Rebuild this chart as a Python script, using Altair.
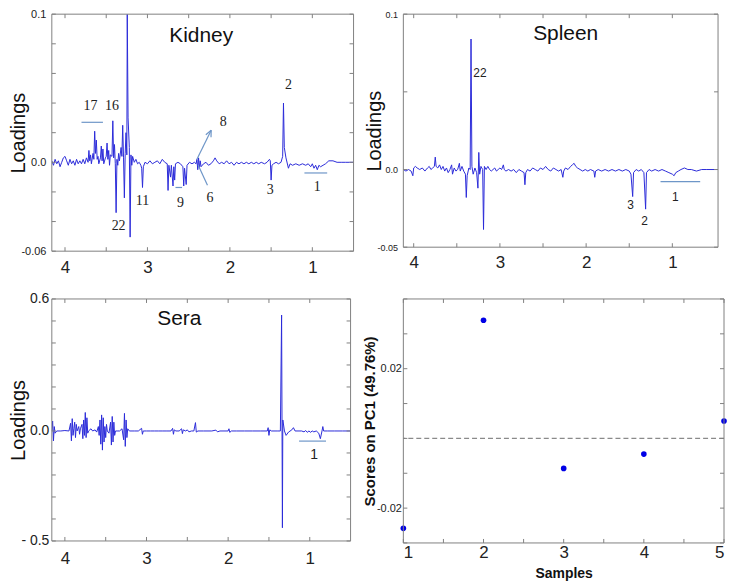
import altair as alt
import pandas as pd

# ---------------- data ----------------
# Kidney PC1 loadings: (chemical shift ppm, loading)
kidney_points = [
    (4.16, 0.001), (4.14, -0.002), (4.12, 0.002), (4.10, -0.001), (4.08, 0.001), (4.06, -0.003),
    (4.04, 0.000), (4.02, 0.003), (4.00, 0.004), (3.98, 0.001), (3.96, -0.002), (3.94, 0.002),
    (3.92, -0.001), (3.90, 0.001), (3.88, -0.002), (3.86, 0.002), (3.84, -0.001), (3.82, 0.001),
    (3.80, -0.001), (3.78, 0.002), (3.76, -0.001), (3.74, 0.003), (3.72, 0.000), (3.71, 0.008),
    (3.70, 0.001), (3.69, 0.005), (3.68, -0.001), (3.66, 0.006), (3.65, 0.002), (3.64, 0.021),
    (3.63, 0.006), (3.62, 0.015), (3.61, 0.002), (3.60, 0.004), (3.59, -0.001), (3.57, 0.003),
    (3.56, 0.011), (3.55, 0.001), (3.54, 0.009), (3.53, -0.001), (3.51, 0.003), (3.50, 0.004),
    (3.49, 0.013), (3.48, 0.002), (3.47, 0.008), (3.46, -0.002), (3.45, 0.005), (3.43, 0.004),
    (3.42, 0.028), (3.41, 0.003), (3.40, 0.012), (3.39, -0.001), (3.38, -0.034), (3.37, 0.002),
    (3.36, -0.002), (3.35, 0.006), (3.34, 0.001), (3.32, 0.010), (3.31, 0.004), (3.30, 0.025),
    (3.29, 0.003), (3.28, -0.024), (3.27, 0.006), (3.26, 0.020), (3.25, 0.005), (3.245, 0.100),
    (3.235, 0.030), (3.22, 0.010), (3.21, -0.0505), (3.20, 0.005), (3.19, -0.002), (3.18, 0.004),
    (3.16, 0.000), (3.14, 0.002), (3.12, -0.001), (3.10, 0.000), (3.08, -0.002), (3.07, -0.004),
    (3.06, -0.017), (3.05, -0.003), (3.03, 0.000), (3.00, -0.001), (2.97, 0.001), (2.94, -0.001),
    (2.91, 0.000), (2.88, 0.001), (2.85, -0.001), (2.82, 0.002), (2.79, 0.000), (2.76, -0.001),
    (2.75, -0.019), (2.74, -0.002), (2.72, -0.010), (2.71, -0.002), (2.69, -0.016), (2.68, -0.003),
    (2.67, -0.012), (2.66, -0.001), (2.63, 0.000), (2.60, -0.001), (2.57, -0.003), (2.56, -0.016),
    (2.55, -0.004), (2.53, -0.015), (2.52, -0.002), (2.49, 0.000), (2.46, -0.001), (2.43, 0.000),
    (2.41, -0.001), (2.40, 0.002), (2.39, -0.005), (2.38, 0.003), (2.37, -0.004), (2.36, 0.001),
    (2.35, -0.003), (2.32, -0.001), (2.29, 0.000), (2.26, -0.002), (2.23, -0.001), (2.20, 0.001),
    (2.18, 0.003), (2.16, 0.001), (2.13, -0.001), (2.10, 0.000), (2.07, -0.001), (2.04, 0.001),
    (2.01, -0.001), (1.98, 0.000), (1.95, -0.002), (1.92, 0.000), (1.89, -0.001), (1.86, 0.000),
    (1.83, -0.001), (1.80, 0.000), (1.77, -0.001), (1.74, 0.000), (1.71, -0.001), (1.68, 0.000),
    (1.65, -0.001), (1.62, 0.000), (1.58, -0.001), (1.55, 0.000), (1.52, 0.002), (1.51, 0.001),
    (1.50, -0.012), (1.49, -0.002), (1.47, -0.001), (1.44, 0.000), (1.41, -0.001), (1.38, 0.000),
    (1.36, 0.004), (1.35, 0.040), (1.34, 0.010), (1.32, 0.003), (1.29, -0.004), (1.27, -0.001),
    (1.24, -0.002), (1.20, -0.001), (1.16, -0.002), (1.12, -0.001), (1.08, -0.002), (1.05, -0.001),
    (1.02, -0.003), (1.00, -0.001), (0.98, -0.004), (0.96, -0.002), (0.94, -0.005), (0.92, -0.002),
    (0.90, -0.003), (0.87, -0.002), (0.84, -0.001), (0.80, 0.001), (0.75, 0.001), (0.70, 0.000),
    (0.65, 0.000), (0.60, 0.000), (0.55, 0.000), (0.50, 0.000),
]

# Spleen PC1 loadings
spleen_points = [
    (4.12, 0.000), (4.09, -0.001), (4.06, 0.000), (4.03, -0.001), (4.01, -0.004), (4.00, 0.001),
    (3.98, 0.002), (3.96, 0.001), (3.93, 0.000), (3.90, 0.001), (3.87, -0.001), (3.84, 0.001),
    (3.82, 0.002), (3.80, 0.000), (3.78, 0.001), (3.76, 0.002), (3.75, 0.008), (3.74, 0.002),
    (3.72, 0.001), (3.70, 0.003), (3.68, 0.000), (3.66, 0.002), (3.64, -0.001), (3.62, 0.001),
    (3.60, -0.002), (3.58, 0.000), (3.56, 0.003), (3.55, -0.003), (3.53, 0.001), (3.51, -0.001),
    (3.49, 0.000), (3.47, 0.004), (3.46, -0.001), (3.44, 0.002), (3.42, -0.001), (3.40, -0.003),
    (3.39, -0.018), (3.38, -0.004), (3.36, 0.001), (3.345, 0.000), (3.335, 0.084), (3.325, 0.002),
    (3.31, -0.003), (3.29, 0.001), (3.27, -0.002), (3.255, -0.012), (3.245, 0.011), (3.235, -0.003),
    (3.22, 0.002), (3.20, 0.000), (3.19, -0.0386), (3.18, 0.002), (3.16, 0.000), (3.14, 0.002),
    (3.12, 0.000), (3.10, -0.001), (3.08, 0.000), (3.06, 0.001), (3.04, -0.001), (3.02, 0.000),
    (3.00, 0.001), (2.98, 0.000), (2.96, 0.003), (2.95, 0.000), (2.93, -0.001), (2.90, 0.000),
    (2.87, -0.001), (2.84, 0.000), (2.81, -0.002), (2.78, 0.000), (2.75, -0.001), (2.72, -0.002),
    (2.71, -0.0098), (2.70, -0.002), (2.68, 0.000), (2.65, -0.001), (2.62, 0.001), (2.59, 0.000),
    (2.56, -0.001), (2.53, 0.001), (2.50, 0.000), (2.47, 0.002), (2.44, 0.000), (2.41, -0.001),
    (2.38, 0.001), (2.35, 0.000), (2.32, -0.001), (2.29, 0.000), (2.27, -0.005), (2.26, -0.001),
    (2.24, 0.001), (2.21, 0.000), (2.18, 0.002), (2.16, 0.003), (2.14, 0.004), (2.12, 0.002),
    (2.10, 0.001), (2.07, 0.000), (2.04, -0.001), (2.01, 0.000), (1.98, -0.001), (1.95, 0.000),
    (1.91, -0.001), (1.90, -0.005), (1.89, -0.001), (1.86, 0.000), (1.82, -0.001), (1.78, 0.000),
    (1.74, -0.001), (1.70, 0.000), (1.66, -0.001), (1.62, 0.000), (1.58, -0.001), (1.54, 0.000),
    (1.50, -0.001), (1.48, -0.003), (1.46, -0.0174), (1.45, -0.002), (1.42, 0.000), (1.39, -0.001),
    (1.36, 0.000), (1.33, -0.002), (1.31, -0.0255), (1.30, -0.002), (1.27, 0.000), (1.24, -0.001),
    (1.20, 0.000), (1.16, -0.001), (1.12, 0.000), (1.08, -0.001), (1.04, -0.002), (1.00, -0.003),
    (0.98, -0.004), (0.96, -0.002), (0.93, -0.001), (0.90, 0.000), (0.86, 0.001), (0.82, 0.000),
    (0.78, 0.000), (0.72, -0.001), (0.66, 0.000), (0.60, 0.000), (0.54, 0.000), (0.47, 0.000),
]

# Sera PC1 loadings
sera_points = [
    (4.16, 0.000), (4.15, 0.045), (4.14, -0.045), (4.13, 0.020), (4.12, -0.010), (4.10, 0.000),
    (4.05, 0.000), (4.00, 0.002), (3.95, 0.000), (3.93, 0.035), (3.92, -0.045), (3.91, 0.056),
    (3.90, -0.020), (3.89, 0.010), (3.88, 0.040), (3.87, -0.030), (3.86, 0.030), (3.85, 0.000),
    (3.83, 0.020), (3.82, -0.015), (3.81, 0.010), (3.79, 0.030), (3.78, -0.035), (3.77, 0.050),
    (3.76, -0.020), (3.75, 0.084), (3.74, -0.030), (3.73, 0.060), (3.72, -0.010), (3.71, 0.000),
    (3.68, 0.010), (3.66, 0.000), (3.63, 0.005), (3.61, -0.005), (3.59, 0.020), (3.58, -0.020),
    (3.57, 0.050), (3.56, -0.060), (3.55, 0.073), (3.54, -0.087), (3.53, 0.060), (3.52, -0.050),
    (3.51, 0.020), (3.50, -0.030), (3.49, 0.030), (3.48, 0.000), (3.46, -0.010), (3.44, 0.040),
    (3.43, -0.064), (3.42, 0.066), (3.41, -0.050), (3.40, 0.040), (3.39, -0.020), (3.38, 0.000),
    (3.36, 0.000), (3.33, 0.000), (3.30, 0.010), (3.28, -0.040), (3.27, 0.080), (3.26, -0.070),
    (3.25, 0.050), (3.24, -0.030), (3.23, 0.010), (3.21, 0.000), (3.15, 0.000), (3.10, 0.000),
    (3.06, 0.012), (3.05, -0.015), (3.04, 0.000), (3.00, 0.000), (2.95, 0.000), (2.90, 0.000),
    (2.85, 0.000), (2.80, 0.000), (2.75, 0.000), (2.70, 0.000), (2.68, 0.012), (2.67, -0.015),
    (2.66, 0.005), (2.64, 0.000), (2.60, 0.000), (2.57, 0.010), (2.56, -0.012), (2.55, 0.005),
    (2.52, 0.000), (2.50, 0.005), (2.48, -0.004), (2.45, 0.000), (2.42, 0.000), (2.40, 0.038),
    (2.39, -0.005), (2.37, 0.000), (2.30, 0.000), (2.20, 0.000), (2.15, 0.004), (2.13, -0.004),
    (2.10, 0.000), (2.00, 0.000), (1.99, 0.010), (1.98, -0.006), (1.96, 0.000), (1.90, 0.000),
    (1.80, 0.000), (1.70, 0.000), (1.60, 0.000), (1.52, 0.000), (1.51, 0.015), (1.50, -0.020),
    (1.49, 0.005), (1.47, 0.000), (1.40, 0.000), (1.36, 0.000), (1.345, 0.527), (1.335, -0.440),
    (1.33, 0.050), (1.31, 0.000), (1.29, -0.020), (1.26, -0.005), (1.22, 0.005), (1.20, 0.015),
    (1.18, 0.000), (1.10, 0.000), (1.07, -0.004), (1.05, 0.002), (1.03, -0.006), (1.01, 0.000),
    (0.99, -0.006), (0.97, 0.000), (0.95, -0.004), (0.92, 0.000), (0.89, -0.010), (0.87, -0.035),
    (0.85, 0.000), (0.84, 0.020), (0.83, 0.000), (0.78, 0.000), (0.70, 0.000), (0.60, 0.000),
    (0.50, 0.000),
]

# PC1 scores
samples = [1, 2, 3, 4, 5]
scores = [-0.0258, 0.0339, -0.0086, -0.0045, 0.005]

# peak labels (text, ppm, loading)
kidney_labels = [("17", 3.69, 0.0378), ("16", 3.43, 0.0378), ("22", 3.35, -0.0432),
                 ("11", 3.06, -0.0264), ("9", 2.60, -0.0277), ("6", 2.24, -0.0243),
                 ("8", 2.08, 0.027), ("3", 1.51, -0.0189), ("2", 1.29, 0.052), ("1", 0.94, -0.0169)]
spleen_labels = [("22", 3.232, 0.062), ("3", 1.484, -0.0229), ("2", 1.322, -0.0333), ("1", 0.965, -0.0176)]
sera_labels = [("1", 0.947, -0.110)]

# annotation segments (ppm1, val1, ppm2, val2)
kidney_segments = [(3.80, 0.027, 3.54, 0.027), (2.66, -0.017, 2.58, -0.017),
                   (1.096, -0.0072, 0.82, -0.0072),
                   (2.40, 0.002, 2.227, 0.0216), (2.227, 0.0216, 2.292, 0.01865),
                   (2.227, 0.0216, 2.229, 0.0169), (2.384, -0.002, 2.272, -0.0155)]
spleen_segments = [(1.137, -0.0078, 0.677, -0.0078)]
sera_segments = [(1.131, -0.046, 0.801, -0.046)]

# axis ticks
kidney_yticks = [-0.06, -0.04, -0.02, 0.0, 0.02, 0.04, 0.06, 0.08, 0.1]
kidney_ylabels = [(0.1, "0.1"), (0.0, "0.0"), (-0.06, "-0.06")]
spleen_yticks = [-0.05, 0.0, 0.05, 0.1]
spleen_ylabels = [(0.1, "0.1"), (0.0, "0.0"), (-0.05, "-0.05")]
sera_yticks = [-0.5, -0.4, -0.3, -0.2, -0.1, 0.0, 0.1, 0.2, 0.3, 0.4, 0.5, 0.6]
sera_ylabels = [(0.6, "0.6"), (0.0, "0.0"), (-0.5, "- 0.5")]
ppm_ticks = [4.0, 3.5, 3.0, 2.5, 2.0, 1.5, 1.0]
score_yticks = [-0.03, -0.02, -0.01, 0.0, 0.01, 0.02, 0.03, 0.04]
score_ylabels = [(0.02, "0.02"), (-0.02, "-0.02")]
sample_ticks = [1, 1.5, 2, 2.5, 3, 3.5, 4, 4.5, 5]

# ---------------- styling ----------------
LINE = "#2b2bd9"
ANN = "#6e96c8"
FRAME = "#808080"
T = 4  # inward tick length
FONT = "Liberation Sans"


def label_expr(pairs):
    return "".join(f"datum.value == {v} ? '{t}' : " for v, t in pairs) + "''"


INT_EXPR = "datum.value % 1 == 0 ? format(datum.value, 'd') : ''"


def box_layers(xs, ys, xticks, yticks, width, height):
    """Frame and MATLAB-style inward ticks on all four sides."""
    frame = alt.Chart(pd.DataFrame({"f": [0]})).mark_rect(
        fill=None, stroke=FRAME, strokeWidth=1).encode(
        x=alt.value(0), x2=alt.value(width), y=alt.value(0), y2=alt.value(height))
    xt = alt.Chart(pd.DataFrame({"v": xticks}))
    yt = alt.Chart(pd.DataFrame({"v": yticks}))
    rule = dict(color=FRAME, strokeWidth=1)
    xb = xt.mark_rule(**rule).encode(x=alt.X("v:Q", scale=xs, axis=None),
                                     y=alt.value(height - T), y2=alt.value(height))
    xtop = xt.mark_rule(**rule).encode(x=alt.X("v:Q", scale=xs, axis=None),
                                       y=alt.value(0), y2=alt.value(T))
    yl = yt.mark_rule(**rule).encode(y=alt.Y("v:Q", scale=ys, axis=None),
                                     x=alt.value(0), x2=alt.value(T))
    yr = yt.mark_rule(**rule).encode(y=alt.Y("v:Q", scale=ys, axis=None),
                                     x=alt.value(width - T), x2=alt.value(width))
    return [xb, xtop, yl, yr, frame]


def spectrum_panel(points, xdom, ydom, yticks, ylabels, width, height,
                   ylab_size, ylab_pad, ext, tpad, xlab_pad,
                   title, title_xy, labels, lab_font, lab_size, segments):
    df = pd.DataFrame(points, columns=["ppm", "val"])
    xs = alt.Scale(domain=xdom, nice=False, zero=False)
    ys = alt.Scale(domain=ydom, nice=False, zero=False)
    xaxis = alt.Axis(orient="bottom", ticks=False, tickSize=0, values=ppm_ticks, labelExpr=INT_EXPR,
                     domain=False, grid=False, title=None, labelFontSize=17, labelPadding=xlab_pad,
                     labelFont=FONT, labelColor="#222")
    yaxis = alt.Axis(orient="left", ticks=False, tickSize=0, values=yticks, labelExpr=label_expr(ylabels),
                     domain=False, grid=False, title="Loadings", titleFontSize=20,
                     titleFontWeight="normal", titleFont=FONT, titleColor="#111",
                     titlePadding=tpad, minExtent=ext, maxExtent=ext,
                     labelFontSize=ylab_size, labelPadding=ylab_pad, labelFont=FONT,
                     labelColor="#222")
    line = alt.Chart(df).mark_line(color=LINE, strokeWidth=1, clip=True).encode(
        x=alt.X("ppm:Q", scale=xs, axis=xaxis),
        y=alt.Y("val:Q", scale=ys, axis=yaxis),
    )
    seg_df = pd.DataFrame(segments, columns=["x1", "y1", "x2", "y2"])
    segs = alt.Chart(seg_df).mark_rule(color=ANN, strokeWidth=1.2).encode(
        x=alt.X("x1:Q", scale=xs, axis=None), x2="x2:Q",
        y=alt.Y("y1:Q", scale=ys, axis=None), y2="y2:Q",
    )
    lab_df = pd.DataFrame(labels, columns=["t", "ppm", "val"])
    labs = alt.Chart(lab_df).mark_text(font=lab_font, fontSize=lab_size, color="#222").encode(
        x=alt.X("ppm:Q", scale=xs, axis=None),
        y=alt.Y("val:Q", scale=ys, axis=None),
        text="t:N",
    )
    ttl = alt.Chart(pd.DataFrame({"t": [title]})).mark_text(
        font=FONT, fontSize=21, color="#111").encode(
        text="t:N", x=alt.value(title_xy[0]), y=alt.value(title_xy[1]))
    layers = [line, segs, labs, ttl] + box_layers(xs, ys, ppm_ticks, yticks, width, height)
    return alt.layer(*layers).resolve_axis(x="independent", y="independent").properties(
        width=width, height=height)


kidney = spectrum_panel(kidney_points, [4.16, 0.5], [-0.06, 0.1], kidney_yticks, kidney_ylabels,
                        303, 238, 11, 6, 16, 7, 8, "Kidney", (150, 22),
                        kidney_labels, "Liberation Serif", 14, kidney_segments)
spleen = spectrum_panel(spleen_points, [4.12, 0.47], [-0.05, 0.1], spleen_yticks, spleen_ylabels,
                        316, 234, 9, 6, 12, 7, 7, "Spleen", (163, 20),
                        spleen_labels, FONT, 12, spleen_segments)
sera = spectrum_panel(sera_points, [4.16, 0.5], [-0.5, 0.6], sera_yticks, sera_ylabels,
                      300, 243, 14, 3, 16, 7, 10, "Sera", (128, 20),
                      sera_labels, FONT, 14, sera_segments)

# scores panel
sc_df = pd.DataFrame({"sample": samples, "score": scores})
sx = alt.Scale(domain=[1, 5], nice=False, zero=False)
sy = alt.Scale(domain=[-0.03, 0.04], nice=False, zero=False)
pts = alt.Chart(sc_df).mark_circle(size=32, color="#0000e6", opacity=1).encode(
    x=alt.X("sample:Q", scale=sx, axis=alt.Axis(
        orient="bottom", ticks=False, tickSize=0, values=sample_ticks, labelExpr=INT_EXPR,
        domain=False, grid=False, title="Samples", titleFontSize=14, titleFontWeight="bold",
        titleFont=FONT, titlePadding=6, titleColor="#111",
        labelFontSize=17, labelPadding=2, labelFont=FONT, labelColor="#222")),
    y=alt.Y("score:Q", scale=sy, axis=alt.Axis(
        orient="left", ticks=False, tickSize=0, values=score_yticks, labelExpr=label_expr(score_ylabels),
        domain=False, grid=False, title="Scores on PC1 (49.76%)", titleFontSize=15,
        titleFontWeight="bold", titleFont=FONT, titleColor="#111",
        titlePadding=10, minExtent=16, maxExtent=16,
        labelFontSize=11, labelPadding=2, labelFont=FONT, labelColor="#222")),
)
zero_line = alt.Chart(pd.DataFrame({"z": [0.0]})).mark_rule(
    color="#8a8a8a", strokeDash=[5, 3], strokeWidth=1.2).encode(
    y=alt.Y("z:Q", scale=sy, axis=None))
scores_panel = alt.layer(
    pts, zero_line, *box_layers(sx, sy, sample_ticks, score_yticks, 322, 245)
).resolve_axis(x="independent", y="independent").properties(width=322, height=245)

chart = alt.concat(kidney, spleen, sera, scores_panel, columns=2,
                   spacing={"row": 48, "column": 50}, bounds="flush", align="none").properties(
    padding={"left": 1, "top": -1, "right": 0, "bottom": 0}
).configure_view(stroke=None).configure_axis(grid=False)

chart.save("out.html", embed_options={"renderer": "svg", "actions": False})
